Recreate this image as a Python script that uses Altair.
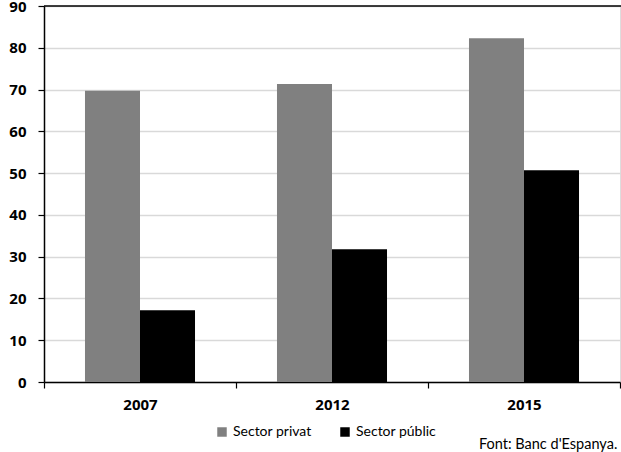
import altair as alt
import pandas as pd

# Data: figures by year and sector
years = ["2007", "2012", "2015"]
sectors = ["Sector privat", "Sector públic"]
privat = [69.7, 71.3, 82.3]
public = [17.2, 31.8, 50.7]

rows = []
for i, y in enumerate(years):
    rows.append({"any": y, "sector": sectors[0], "valor": privat[i]})
    rows.append({"any": y, "sector": sectors[1], "valor": public[i]})
df = pd.DataFrame(rows)

AXIS_FONT = "Noto Sans"
TEXT_FONT = "Lato"

bars = alt.Chart(df).mark_bar(stroke=None).encode(
    x=alt.X(
        "any:N",
        sort=years,
        scale=alt.Scale(paddingInner=0, paddingOuter=0),
        axis=alt.Axis(
            title=None,
            labelAngle=0,
            labelFont=AXIS_FONT,
            labelFontWeight="bold",
            labelFontSize=15,
            labelColor="#000000",
            labelPadding=9,
            domainColor="#000000",
            domainWidth=1.5,
            tickColor="#000000",
            tickWidth=1.2,
            tickSize=6,
            tickBand="extent",
            grid=False,
        ),
    ),
    xOffset=alt.XOffset(
        "sector:N",
        sort=sectors,
        scale=alt.Scale(paddingInner=0, paddingOuter=0.745),
    ),
    y=alt.Y(
        "valor:Q",
        scale=alt.Scale(domain=[0, 90], nice=False),
        axis=alt.Axis(
            title=None,
            values=list(range(0, 91, 10)),
            labelFont=AXIS_FONT,
            labelFontWeight="bold",
            labelFontSize=15,
            labelColor="#000000",
            labelPadding=12,
            domainColor="#000000",
            domainWidth=1.5,
            tickColor="#000000",
            tickWidth=1.2,
            tickSize=6,
            gridColor="#d9d9d9",
            gridWidth=1.5,
        ),
    ),
    color=alt.Color(
        "sector:N",
        sort=sectors,
        scale=alt.Scale(domain=sectors, range=["#808080", "#000000"]),
        legend=alt.Legend(
            title=None,
            orient="none",
            direction="horizontal",
            legendX=171,
            legendY=419,
            symbolType="square",
            symbolSize=90,
            symbolStrokeWidth=0,
            labelFont=TEXT_FONT,
            labelFontSize=14,
            labelColor="#000000",
            labelOffset=4,
            columnPadding=26,
        ),
    ),
)

# Top frame line of the plot area
top_line = alt.Chart(pd.DataFrame({"v": [90]})).mark_rule(
    color="#000000", strokeWidth=1.5
).encode(y="v:Q", x=alt.value(0), x2=alt.value(577))

source = alt.Chart(pd.DataFrame({"t": ["Font: Banc d'Espanya."]})).mark_text(
    font=TEXT_FONT, fontSize=14.5, align="left", baseline="middle", color="#000000"
).encode(text="t:N", x=alt.value(435), y=alt.value(439))

chart = alt.layer(bars, top_line, source).properties(
    width=576,
    height=376,
    autosize=alt.AutoSizeParams(type="none"),
    padding={"left": 44, "top": 6, "right": 1, "bottom": 70},
).configure_view(stroke=None).configure(background="#ffffff")

chart.save("out.html", embed_options={"renderer": "svg", "actions": False})
